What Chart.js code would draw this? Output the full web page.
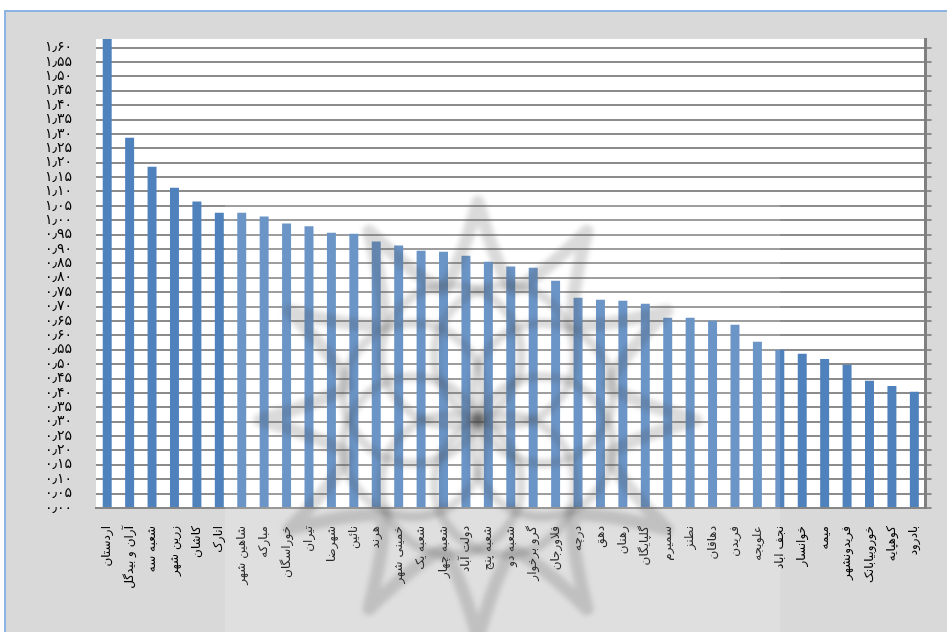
<!DOCTYPE html>
<html>
<head>
<meta charset="utf-8">
<script src="https://cdn.jsdelivr.net/npm/chart.js@4/dist/chart.umd.min.js"></script>
<style>
  html, body { margin: 0; padding: 0; background: #fff; overflow: hidden; }
  canvas { display: block; }
</style>
</head>
<body>
<canvas id="c" width="947" height="632"></canvas>
<script>
// Branch names (x axis)
const categories = [
  'اردستان', 'آران و بیدگل', 'شعبه سه', 'زرین شهر', 'کاشان', 'انارک',
  'شاهین شهر', 'مبارکه', 'خوراسگان', 'تیران', 'شهرضا', 'نائین', 'هرند',
  'خمینی شهر', 'شعبه یک', 'شعبه چهار', 'دولت آباد', 'شعبه پنج', 'شعبه دو',
  'گرو برخوار', 'فلاورجان', 'درچه', 'دهق', 'رهنان', 'گلپایگان', 'سمیرم',
  'نطنز', 'دهاقان', 'فریدن', 'علویجه', 'نجف اباد', 'خوانسار', 'میمه',
  'فریدونشهر', 'خوروبیابانک', 'کوهپایه', 'بادرود'
];

// Index value per branch
const values = [
  1.63, 1.287, 1.186, 1.113, 1.065, 1.026, 1.026, 1.013, 0.989, 0.979,
  0.957, 0.953, 0.926, 0.912, 0.894, 0.891, 0.877, 0.856, 0.839, 0.835,
  0.790, 0.731, 0.724, 0.720, 0.710, 0.661, 0.661, 0.651, 0.637, 0.578,
  0.550, 0.536, 0.518, 0.498, 0.442, 0.424, 0.404
];

// Value axis ticks
const yTickValues = [
  0.00, 0.05, 0.10, 0.15, 0.20, 0.25, 0.30, 0.35, 0.40, 0.45, 0.50,
  0.55, 0.60, 0.65, 0.70, 0.75, 0.80, 0.85, 0.90, 0.95, 1.00, 1.05,
  1.10, 1.15, 1.20, 1.25, 1.30, 1.35, 1.40, 1.45, 1.50, 1.55, 1.60
];
const yMax = 1.63;

const faDigits = '۰۱۲۳۴۵۶۷۸۹';
function toPersian(v) {
  return Number(v).toFixed(2).replace('.', '٫').replace(/\d/g, d => faDigits[d]);
}

// Gray frame with light blue edges and a white plot area
const framePlugin = {
  id: 'frame',
  beforeDraw(chart) {
    const ctx = chart.ctx;
    const a = chart.chartArea;
    ctx.save();
    ctx.fillStyle = '#ffffff';
    ctx.fillRect(0, 0, chart.width, chart.height);
    ctx.fillStyle = '#d9d9d9';
    ctx.fillRect(5, 10, chart.width - 5, chart.height - 10);
    ctx.fillStyle = '#8db3e2';
    ctx.fillRect(5, 10, chart.width - 5, 2);
    ctx.fillRect(4, 10, 2, chart.height - 10);
    ctx.fillStyle = '#ffffff';
    ctx.fillRect(a.left, a.top, a.right - a.left, a.bottom - a.top);
    ctx.restore();
  }
};

// Faded emblem drawn over the middle of the chart
const emblemPlugin = {
  id: 'emblem',
  afterDraw(chart) {
    const ctx = chart.ctx;
    const bx = 225, by = 192, bw = 555, bh = 440;
    ctx.save();
    ctx.beginPath();
    ctx.rect(bx, by, bw, bh);
    ctx.clip();
    ctx.fillStyle = 'rgba(255,255,255,0.16)';
    ctx.fillRect(bx, by, bw, bh);
    ctx.filter = 'blur(2.5px)';
    ctx.strokeStyle = 'rgba(70,70,70,0.2)';
    const cx = 478, cy = 420;
    const pt = (ang, rad) => [cx + rad * Math.cos(ang), cy + rad * Math.sin(ang)];
    // outer star with concave sides
    const n = 12;
    ctx.lineWidth = 13;
    ctx.lineJoin = 'round';
    ctx.beginPath();
    for (let i = 0; i < n; i++) {
      const a0 = -Math.PI / 2 + i * 2 * Math.PI / n;
      const aV = a0 + Math.PI / n;
      const a1 = a0 + 2 * Math.PI / n;
      const tip = pt(a0, 218);
      const valley = pt(aV, 135);
      const c1 = pt(a0 + Math.PI / (2 * n), 150);
      const c2 = pt(aV + Math.PI / (2 * n), 150);
      const next = pt(a1, 218);
      if (i === 0) ctx.moveTo(tip[0], tip[1]);
      ctx.quadraticCurveTo(c1[0], c1[1], valley[0], valley[1]);
      ctx.quadraticCurveTo(c2[0], c2[1], next[0], next[1]);
    }
    ctx.closePath();
    ctx.stroke();
    // inner rosette of circles
    ctx.lineWidth = 9;
    for (let i = 0; i < 8; i++) {
      const ang = i * Math.PI / 4 + Math.PI / 8;
      const p = pt(ang, 70);
      ctx.beginPath();
      ctx.arc(p[0], p[1], 70, 0, Math.PI * 2);
      ctx.stroke();
    }
    ctx.restore();
  }
};

const sharedTicks = scale => {
  scale.ticks = yTickValues.map(v => ({ value: v }));
};

new Chart(document.getElementById('c'), {
  type: 'bar',
  data: {
    labels: categories,
    datasets: [{
      data: values,
      backgroundColor: '#4f81bd',
      borderWidth: 0,
      barPercentage: 0.4,
      categoryPercentage: 1.0,
      yAxisID: 'y'
    }]
  },
  options: {
    responsive: false,
    devicePixelRatio: 1,
    animation: false,
    layout: { padding: { top: 39, right: 0, bottom: 0, left: 0 } },
    plugins: {
      legend: { display: false },
      tooltip: { enabled: false }
    },
    scales: {
      x: {
        grid: { display: false, drawTicks: false },
        border: { display: true, color: '#868686', width: 2 },
        afterFit: s => { s.height = 124; },
        ticks: {
          autoSkip: false,
          minRotation: 90,
          maxRotation: 90,
          padding: 18,
          color: '#000',
          font: { family: 'DejaVu Sans', size: 12 }
        }
      },
      y: {
        position: 'left',
        min: 0,
        max: yMax,
        afterBuildTicks: sharedTicks,
        afterFit: s => { s.width = 96; },
        grid: { color: '#8c8c8c', lineWidth: 2, drawTicks: false },
        border: { display: false },
        ticks: {
          autoSkip: false,
          padding: 24,
          color: '#000',
          font: { family: 'DejaVu Sans', size: 14 },
          callback: v => toPersian(v)
        }
      },
      y2: {
        position: 'right',
        min: 0,
        max: yMax,
        afterBuildTicks: sharedTicks,
        afterFit: s => { s.width = 19; },
        grid: { drawOnChartArea: false, color: '#8c8c8c', lineWidth: 2, tickLength: 6 },
        border: { display: true, color: '#808080', width: 3 },
        ticks: { display: false, autoSkip: false }
      }
    }
  },
  plugins: [framePlugin, emblemPlugin]
});
</script>
</body>
</html>
